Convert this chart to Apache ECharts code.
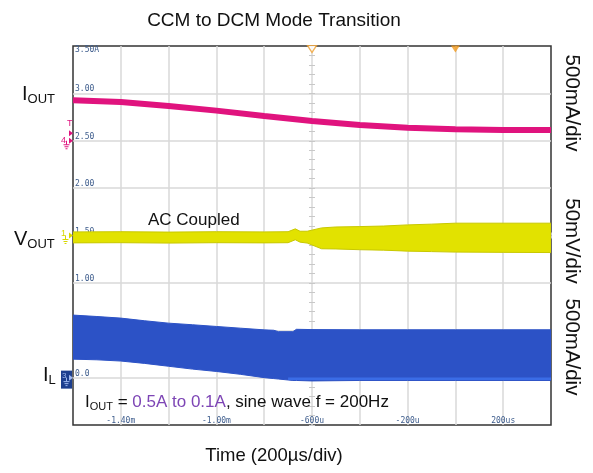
<!DOCTYPE html>
<html><head><meta charset="utf-8">
<script src="https://cdn.jsdelivr.net/npm/echarts@6/dist/echarts.min.js"></script>
<style>html,body{margin:0;padding:0;background:#fff}#c{width:593px;height:473px}</style>
</head><body><div id="c"></div>
<script>
// ---- time axis (µs) ----
const xTickValues = [-1400, -1000, -600, -200, 200];
const xTickLabels = ['-1.40m', '-1.00m', '-600u', '-200u', '200us'];
// ---- vertical scale labels ----
const yTickValues = [3.0, 2.5, 2.0, 1.5, 1.0, 0.5, 0.0];
const yTickLabels = ['3.00', '2.50', '2.00', '1.50', '1.00', '500m', '0.0'];
const yTopLabel = '3.50A';
// ---- IOUT trace (pink) ----
const tOut = [-1600, -1400, -1200, -1000, -800, -600, -400, -200, 0, 200, 400];
const iOut = [2.927, 2.909, 2.867, 2.818, 2.762, 2.709, 2.667, 2.638, 2.621, 2.614, 2.614];
// ---- VOUT trace (yellow band) ----
const tV = [-1600, -1400, -1200, -1000, -800, -700, -670, -650, -620, -560, -500, -400, -300, -200, -100, 0, 200, 400];
const vUpper = [1.538, 1.540, 1.536, 1.540, 1.538, 1.540, 1.570, 1.545, 1.545, 1.580, 1.590, 1.594, 1.600, 1.612, 1.620, 1.630, 1.630, 1.630];
const vLower = [1.422, 1.424, 1.420, 1.424, 1.422, 1.424, 1.455, 1.430, 1.420, 1.360, 1.358, 1.350, 1.345, 1.335, 1.330, 1.325, 1.322, 1.320];
// ---- IL trace (blue band) ----
const tL = [-1600, -1500, -1400, -1300, -1200, -1100, -1000, -900, -800, -760, -740, -680, -665, -600, -400, -200, 0, 200, 400];
const lUpper = [0.660, 0.645, 0.628, 0.600, 0.575, 0.558, 0.540, 0.522, 0.504, 0.500, 0.485, 0.485, 0.510, 0.507, 0.505, 0.505, 0.505, 0.505, 0.505];
const lLower = [0.195, 0.188, 0.175, 0.150, 0.120, 0.090, 0.065, 0.035, 0.000, -0.010, -0.015, -0.030, -0.030, -0.035, -0.030, -0.030, -0.030, -0.030, -0.030];
// DCM zero-clamp bright edge
const tClamp = [-700, 400];
const vClamp = [-0.012, -0.012];
// trigger markers at top
const trigT = [-600, 0];

const pairs = (xs, ys) => xs.map((x, i) => [x, ys[i]]);
const triples = (xs, lo, hi) => xs.map((x, i) => [x, lo[i], hi[i]]);

const gridCol = '#d9d9d9';
const lblCol = '#3d5c8c';
const mono = 'DejaVu Sans Mono';
const sans = 'Liberation Sans, Arial, sans-serif';

const bandSeries = (name, data, fill, edge) => ({
  type: 'custom', name: name, data: data, encode: { x: 0, y: [1, 2] }, clip: true, z: 3,
  renderItem: (params, api) => {
    if (params.dataIndexInside !== 0) return;
    const n = data.length;
    const top = [], bot = [];
    for (let j = 0; j < n; j++) {
      top.push(api.coord([api.value(0, j), api.value(2, j)]));
      bot.push(api.coord([api.value(0, j), api.value(1, j)]));
    }
    return {
      type: 'polygon', shape: { points: top.concat(bot.reverse()) },
      style: { fill: fill, stroke: edge, lineWidth: 1 }
    };
  }
});

const centerTickAxis = (inside) => ({
  type: 'value', min: -0.5, max: 3.5, interval: 0.5, position: 'left', offset: -239,
  axisLine: { show: false },
  axisTick: { show: true, inside: inside, length: 3, lineStyle: { color: '#c8c8c8' } },
  minorTick: { show: true, splitNumber: 5, length: 3, lineStyle: { color: '#c8c8c8' } },
  axisLabel: { show: false }, splitLine: { show: false }
});
const centerTickXAxis = (inside) => ({
  type: 'value', min: -1600, max: 400, interval: 200, position: 'bottom', offset: -189.5,
  axisLine: { show: false },
  axisTick: { show: true, inside: inside, length: 3, lineStyle: { color: '#c8c8c8' } },
  minorTick: { show: true, splitNumber: 5, length: 3, lineStyle: { color: '#c8c8c8' } },
  axisLabel: { show: false }, splitLine: { show: false }
});

const option = {
  animation: false,
  backgroundColor: '#fff',
  title: {
    text: 'CCM to DCM Mode Transition', left: 269, top: 6, textAlign: 'center',
    textStyle: { fontFamily: sans, fontSize: 19, fontWeight: 'normal', color: '#111' }
  },
  grid: { left: 73, top: 46, width: 478, height: 379, show: true, borderColor: '#333', borderWidth: 1.5, backgroundColor: 'transparent' },
  xAxis: [
    {
      type: 'value', min: -1600, max: 400, interval: 200, position: 'bottom',
      axisLine: { show: false }, axisTick: { show: false },
      axisLabel: {
        inside: true, margin: 0, fontSize: 8, fontFamily: mono, color: lblCol,
        formatter: v => { const i = xTickValues.indexOf(v); return i >= 0 ? xTickLabels[i] : ''; }
      },
      splitLine: { show: true, showMinLine: false, showMaxLine: false, lineStyle: { color: gridCol, width: 1.5 } }
    },
    centerTickXAxis(true), centerTickXAxis(false)
  ],
  yAxis: [
    {
      type: 'value', min: -0.5, max: 3.5, interval: 0.5, position: 'left',
      axisLine: { show: false }, axisTick: { show: false },
      axisLabel: {
        inside: true, margin: 2, fontSize: 8, fontFamily: mono, color: lblCol, verticalAlign: 'bottom',
        formatter: v => { const i = yTickValues.findIndex(t => Math.abs(t - v) < 1e-6); return i >= 0 ? yTickLabels[i] : ''; }
      },
      splitLine: { show: true, showMinLine: false, showMaxLine: false, lineStyle: { color: gridCol, width: 1.5 } }
    },
    {
      type: 'value', min: -0.5, max: 3.5, interval: 0.5, position: 'left',
      axisLine: { show: false }, axisTick: { show: false }, splitLine: { show: false },
      axisLabel: {
        inside: true, margin: 2, fontSize: 8, fontFamily: mono, color: lblCol, verticalAlign: 'top',
        formatter: v => (Math.abs(v - 3.5) < 1e-6 ? yTopLabel : '')
      }
    },
    centerTickAxis(true), centerTickAxis(false)
  ],
  series: [
    bandSeries('IL', triples(tL, lLower, lUpper), '#2c52c6', '#2c52c6'),
    { type: 'line', name: 'clamp', data: pairs(tClamp, vClamp), symbol: 'none',
      lineStyle: { width: 2.5, color: '#3a6ce6' }, z: 4 },
    bandSeries('VOUT', triples(tV, vLower, vUpper), '#e2e200', '#c8c800'),
    { type: 'line', name: 'IOUT', data: pairs(tOut, iOut), symbol: 'none',
      lineStyle: { width: 6, color: '#e0137e' }, z: 4 },
    { type: 'scatter', name: 'trig', data: [
        { value: [trigT[0], 3.5], itemStyle: { color: '#fff', borderColor: '#f0a030', borderWidth: 1.3 } },
        { value: [trigT[1], 3.5], itemStyle: { color: '#f39a1c' } }
      ], symbol: 'triangle', symbolRotate: 180, symbolSize: [9, 7], symbolOffset: [0, 3], z: 6 }
  ]
};

const chart = echarts.init(document.getElementById('c'), null, { renderer: 'canvas' });
chart.setOption(option);

const py = v => chart.convertToPixel({ yAxisIndex: 0 }, v);
const lab = (x, y, main, sub, fs, sfs) => ({
  type: 'text', x: x, y: y,
  style: {
    text: '{m|' + main + '}{s|' + sub + '}', verticalAlign: 'middle',
    rich: {
      m: { fontFamily: sans, fontSize: fs, fill: '#111', verticalAlign: 'middle', lineHeight: fs + 4 },
      s: { fontFamily: sans, fontSize: sfs, fill: '#111', verticalAlign: 'bottom', lineHeight: fs + 4 }
    }
  }
});
const rot = (y, txt) => ({
  type: 'text', x: 572, y: y, rotation: -Math.PI / 2,
  style: { text: txt, fontFamily: sans, fontSize: 20.5, fill: '#111', align: 'center', verticalAlign: 'middle' }
});
const pink = '#e0137e', yel = '#d8d800', lb = '#9fb8ef';
const ground = (cx, y0, col) => [
  { type: 'polyline', shape: { points: [[cx, y0], [cx, y0 + 4]] }, style: { stroke: col, lineWidth: 1 } },
  { type: 'polyline', shape: { points: [[cx - 3, y0 + 4], [cx + 3, y0 + 4]] }, style: { stroke: col, lineWidth: 1 } },
  { type: 'polyline', shape: { points: [[cx - 2, y0 + 6], [cx + 2, y0 + 6]] }, style: { stroke: col, lineWidth: 1 } },
  { type: 'polyline', shape: { points: [[cx - 1, y0 + 8], [cx + 1, y0 + 8]] }, style: { stroke: col, lineWidth: 1 } }
];
const arrow = (y, col) => ({ type: 'polygon', shape: { points: [[69, y - 3], [73, y], [69, y + 3]] }, style: { fill: col } });
const g = [
  lab(22, 94, 'I', 'OUT', 20, 13),
  lab(14, 239, 'V', 'OUT', 20, 13),
  lab(43, 375, 'I', 'L', 20, 13),
  rot(103, '500mA/div'), rot(241, '50mV/div'), rot(347, '500mA/div'),
  { type: 'text', x: 274, y: 456, style: { text: 'Time (200µs/div)', fontFamily: sans, fontSize: 18.5, fill: '#111', align: 'center', verticalAlign: 'middle' } },
  { type: 'text', x: 148, y: 220, style: { text: 'AC Coupled', fontFamily: sans, fontSize: 17, fill: '#111', verticalAlign: 'middle' } },
  { type: 'text', x: 85, y: 402, z: 10, style: {
      text: '{m|I}{s|OUT}{m| = }{p|0.5A to 0.1A}{m|, sine wave f = 200Hz}', verticalAlign: 'middle',
      rich: {
        m: { fontFamily: sans, fontSize: 17, fill: '#111', verticalAlign: 'middle', lineHeight: 20 },
        p: { fontFamily: sans, fontSize: 17, fill: '#7d45b5', verticalAlign: 'middle', lineHeight: 20 },
        s: { fontFamily: sans, fontSize: 11, fill: '#111', verticalAlign: 'bottom', lineHeight: 20 }
      } } },
  // channel 4 (pink)
  { type: 'text', x: 67, y: py(2.6) - 8, style: { text: 'T', fontFamily: sans, fontSize: 9, fill: pink, verticalAlign: 'middle' } },
  arrow(py(2.58), pink),
  { type: 'text', x: 61, y: py(2.5), style: { text: '4', fontFamily: sans, fontSize: 9, fill: pink, verticalAlign: 'middle' } },
  arrow(py(2.5), pink),
  ...ground(66.5, py(2.5), pink),
  // channel 1 (yellow)
  { type: 'text', x: 61, y: py(1.5) - 2, style: { text: '1', fontFamily: sans, fontSize: 9, fill: yel, verticalAlign: 'middle' } },
  arrow(py(1.5), yel),
  ...ground(65.5, py(1.5), yel),
  // channel 3 (blue) box
  { type: 'rect', shape: { x: 61, y: py(0) - 7, width: 11, height: 18 }, style: { fill: '#1d3f8f' } },
  { type: 'text', x: 62, y: py(0) - 2, style: { text: '3', fontFamily: sans, fontSize: 8, fill: lb, verticalAlign: 'middle' } },
  arrow(py(0), lb),
  ...ground(66.5, py(0), lb)
];
chart.setOption({ graphic: g });
</script>
</body></html>
